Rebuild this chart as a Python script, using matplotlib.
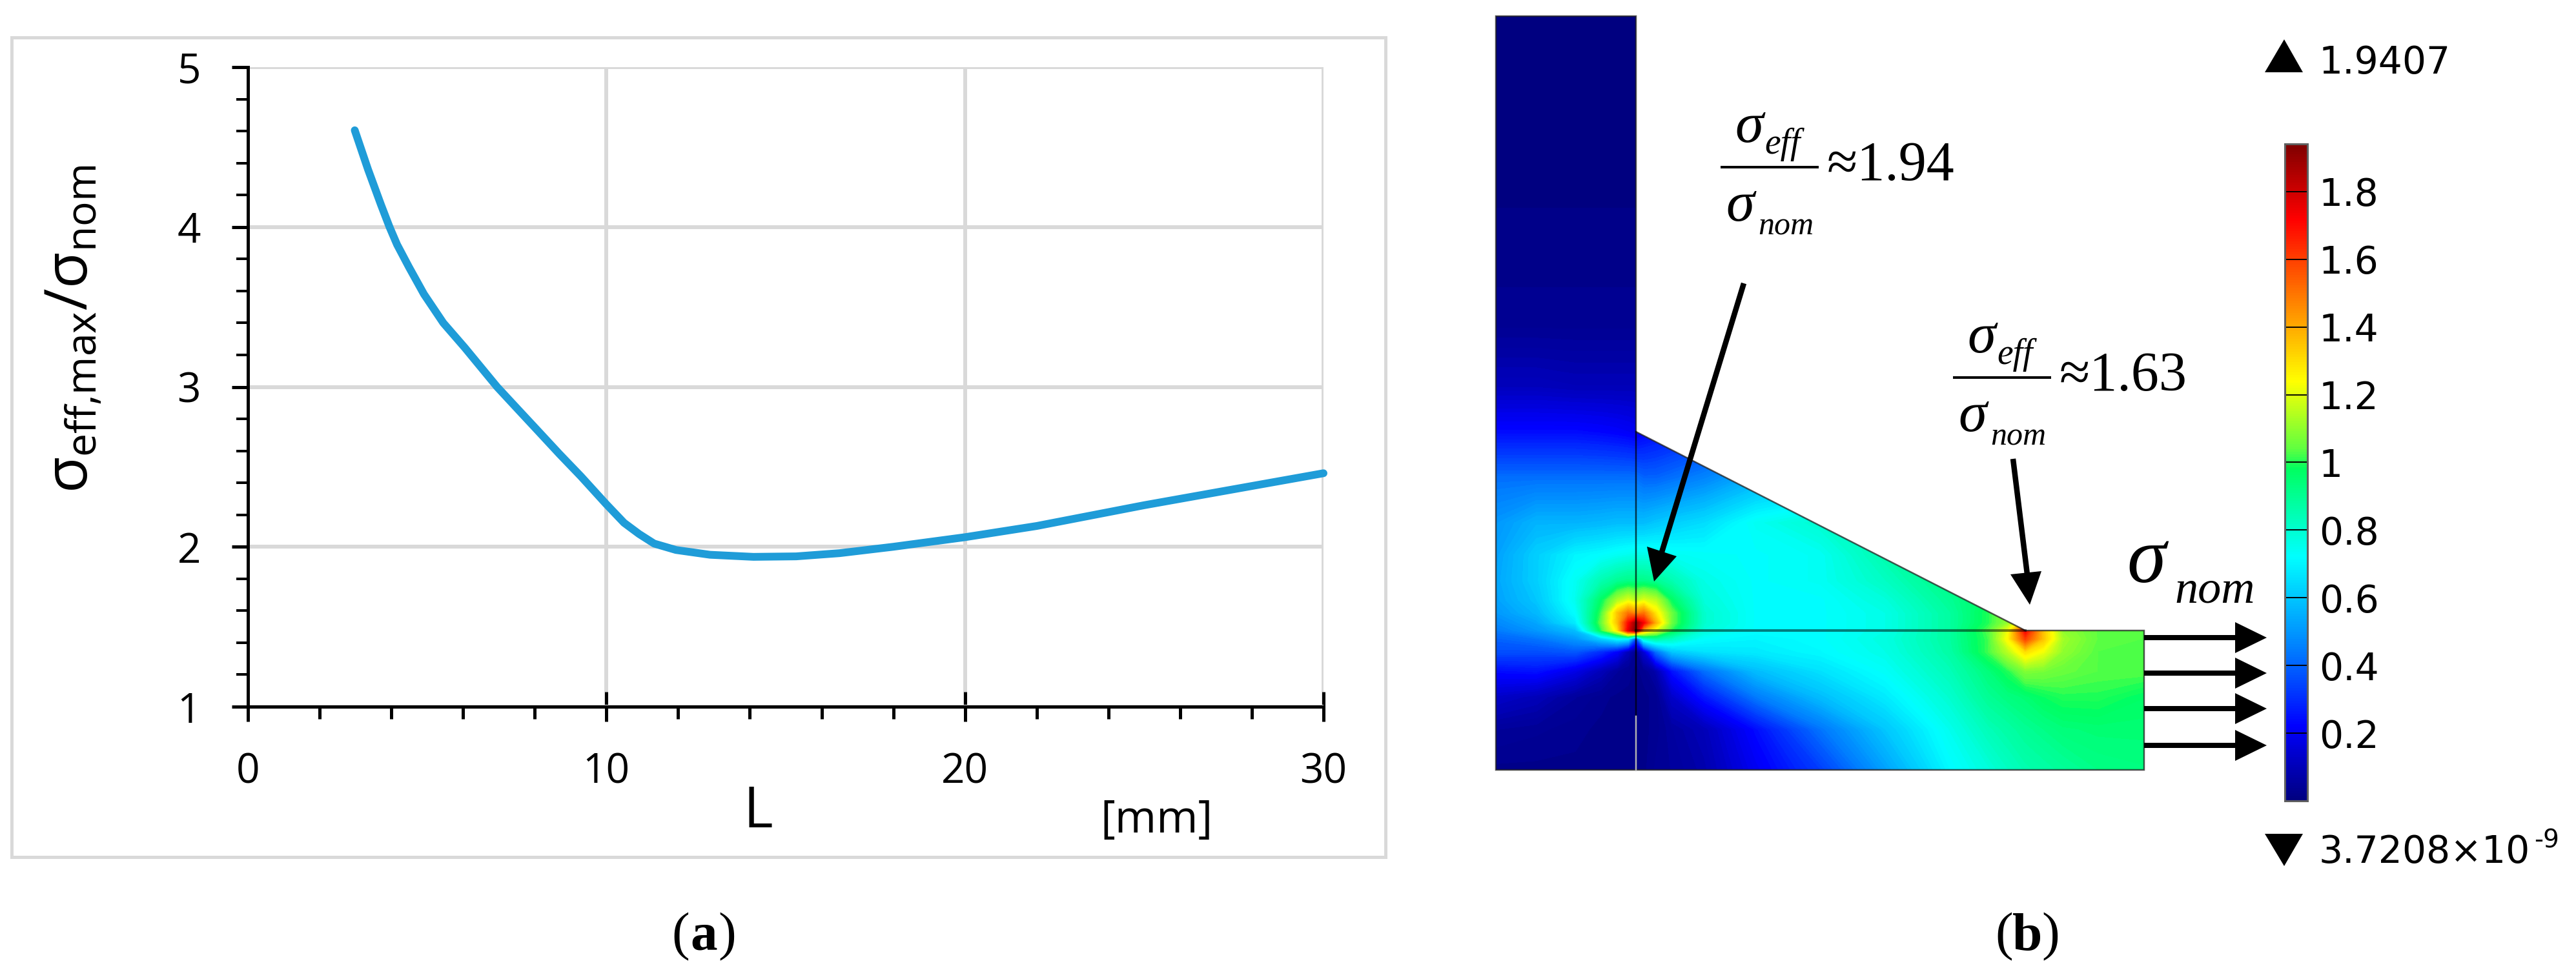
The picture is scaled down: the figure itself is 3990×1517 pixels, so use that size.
import numpy as np
import matplotlib
matplotlib.use("Agg")
import matplotlib.pyplot as plt
from matplotlib.colors import LinearSegmentedColormap, Normalize
from matplotlib.cm import ScalarMappable
from matplotlib.patches import Polygon, Rectangle
from matplotlib.ticker import MultipleLocator

plt.rcParams["font.family"] = ["Open Sans", "DejaVu Sans"]
plt.rcParams["mathtext.fontset"] = "custom"
plt.rcParams["mathtext.rm"] = "Open Sans"
plt.rcParams["mathtext.it"] = "Open Sans"
plt.rcParams["mathtext.bf"] = "Open Sans:bold"

W, H = 3990, 1517
PT = 0.72  # px -> pt at dpi 100

# ================== PANEL A DATA ==================
L_mm = [2.98, 3.35, 3.71, 3.95, 4.16, 4.49, 4.91, 5.45, 6.05, 6.95, 7.55, 8.09, 8.69, 9.29,
        9.98, 10.49, 10.91, 11.33, 11.94, 12.89, 14.1, 15.29, 16.5, 18.0, 20.0, 22.0, 25.0, 27.5, 30.0]
sigma_ratio = [4.605, 4.36, 4.14, 4.00, 3.89, 3.75, 3.58, 3.40, 3.245, 3.00, 2.855, 2.725, 2.58, 2.44,
               2.27, 2.15, 2.08, 2.02, 1.98, 1.95, 1.937, 1.94, 1.96, 2.00, 2.06, 2.13, 2.26, 2.36, 2.46]
x_ticks = [0, 10, 20, 30]
y_ticks = [1, 2, 3, 4, 5]

# ================== PANEL B DATA (field, pixel positions) ==================
field_x = [2317, 2380, 2440, 2480, 2505, 2522, 2534, 2546, 2565, 2590, 2640,
           2720, 2820, 2920, 3020, 3080, 3110, 3137, 3165, 3195, 3250, 3321]
field_y = [25, 300, 500, 600, 670, 740, 810, 860, 900, 930, 950, 965, 977, 990, 1010, 1040, 1080, 1130, 1193]
field_z = [
    [.00, .00, .00, .00, .00, .00, .00, .00, .00, .00, .00, .00, .00, .00, .00, .00, .00, .00, .00, .00, .00, .00],
    [.01, .01, .01, .01, .01, .01, .01, .01, .01, .01, .01, .01, .01, .01, .01, .01, .01, .01, .01, .01, .01, .01],
    [.03, .03, .03, .03, .03, .03, .03, .03, .03, .03, .03, .03, .03, .03, .03, .03, .03, .03, .03, .03, .03, .03],
    [.11, .11, .10, .10, .10, .10, .10, .10, .10, .10, .10, .10, .10, .10, .10, .10, .10, .10, .10, .10, .10, .10],
    [.24, .24, .24, .23, .22, .21, .20, .22, .24, .26, .30, .36, .40, .40, .40, .40, .40, .40, .40, .40, .40, .40],
    [.42, .42, .42, .42, .42, .42, .42, .40, .40, .42, .46, .55, .60, .70, .80, .80, .80, .80, .80, .80, .80, .80],
    [.50, .56, .56, .57, .58, .58, .58, .58, .60, .62, .65, .74, .80, .85, .90, 1.0, 1.0, 1.0, 1.0, 1.0, 1.0, 1.0],
    [.52, .62, .70, .72, .74, .75, .76, .76, .76, .74, .73, .72, .74, .86, .95, 1.0, 1.0, 1.0, 1.0, 1.0, 1.0, 1.0],
    [.53, .62, .74, .85, .90, .92, .92, .92, .90, .85, .76, .72, .74, .82, .93, 1.0, 1.05, 1.1, 1.1, 1.1, 1.1, 1.1],
    [.52, .60, .75, .97, 1.13, 1.20, 1.15, 1.20, 1.15, .97, .78, .72, .72, .78, .90, .98, 1.05, 1.1, 1.1, 1.1, 1.1, 1.1],
    [.50, .57, .72, 1.02, 1.35, 1.50, 1.45, 1.50, 1.28, 1.05, .80, .72, .72, .76, .88, 1.0, 1.1, 1.15, 1.15, 1.1, 1.05, 1.05],
    [.47, .53, .68, 1.05, 1.35, 1.70, 1.90, 1.72, 1.38, 1.05, .80, .72, .72, .76, .88, 1.0, 1.1, 1.35, 1.25, 1.1, 1.05, 1.05],
    [.44, .50, .58, 1.00, 1.28, 1.75, 1.94, 1.40, 1.20, 1.00, .78, .72, .72, .76, .88, 1.03, 1.22, 1.72, 1.35, 1.10, 1.04, 1.03],
    [.40, .43, .50, .62, .72, .70, .35, .80, .88, .82, .72, .70, .72, .77, .88, 1.02, 1.25, 1.60, 1.35, 1.12, 1.04, 1.03],
    [.36, .36, .38, .30, .22, .10, .03, .15, .42, .60, .66, .68, .71, .76, .87, 1.02, 1.15, 1.30, 1.22, 1.10, 1.03, 1.03],
    [.24, .25, .18, .10, .05, .03, .02, .03, .08, .25, .42, .58, .66, .73, .84, .94, 1.0, 1.08, 1.07, 1.05, 1.03, 1.03],
    [.13, .10, .05, .03, .02, .02, .02, .02, .03, .13, .26, .44, .58, .68, .80, .90, .93, .95, .98, 1.0, 1.0, .97],
    [.05, .04, .03, .02, .02, .02, .02, .02, .03, .06, .10, .24, .43, .60, .75, .84, .87, .90, .92, .94, .95, .95],
    [.02, .02, .02, .02, .02, .02, .02, .02, .04, .05, .08, .20, .33, .52, .71, .78, .82, .85, .87, .89, .92, .93],
]
field_max = 1.9407
cbar_ticks = [0.2, 0.4, 0.6, 0.8, 1, 1.2, 1.4, 1.6, 1.8]
cbar_labels = ["0.2", "0.4", "0.6", "0.8", "1", "1.2", "1.4", "1.6", "1.8"]
cmap_vals = [0, .22, .45, .72, .88, .98, 1.04, 1.24, 1.45, 1.72, 1.9407]
cmap_cols = ["#000080", "#0000ff", "#0080ff", "#00ffff", "#00ffa0", "#00ff60", "#60ff40",
             "#ffff00", "#ff9000", "#ff0000", "#800000"]

body_outline = [(2317, 25), (2534, 25), (2534, 669), (3137, 977), (3321, 977), (3321, 1193), (2317, 1193)]
load_y = [988, 1043, 1098, 1155]

fig = plt.figure(figsize=(W / 100, H / 100), dpi=100, facecolor="white")

# ================== PANEL A ==================
ax = fig.add_axes([384 / W, 1 - 1095 / H, (2050 - 384) / W, (1095 - 104) / H])
ax.plot(L_mm, sigma_ratio, color="#1f9cd8", lw=12 * PT, clip_on=False, zorder=4,
        solid_capstyle="round", solid_joinstyle="round")
ax.set_xlim(0, 30)
ax.set_ylim(1, 5)
ax.set_xticks(x_ticks)
ax.set_yticks(y_ticks)
ax.xaxis.set_minor_locator(MultipleLocator(2))
ax.yaxis.set_minor_locator(MultipleLocator(0.2))
ax.grid(True, which="major", color="#d9d9d9", lw=6 * PT)
ax.set_axisbelow(True)
for s in ["top", "right"]:
    ax.spines[s].set_visible(False)
for s in ["left", "bottom"]:
    ax.spines[s].set_linewidth(5 * PT)
ax.tick_params(axis="x", which="major", direction="inout", length=46 * PT, width=5 * PT,
               labelsize=46, pad=46 * PT)
ax.tick_params(axis="x", which="minor", direction="out", length=19 * PT, width=5 * PT)
ax.tick_params(axis="y", which="major", direction="out", length=25 * PT, width=5 * PT,
               labelsize=46, pad=48 * PT)
ax.tick_params(axis="y", which="minor", direction="out", length=18 * PT, width=4 * PT)

# ================== OVERLAY IN PIXEL COORDINATES ==================
ov = fig.add_axes([0, 0, 1, 1], facecolor="none")
ov.set_xlim(0, W)
ov.set_ylim(H, 0)
ov.axis("off")

ov.add_patch(Rectangle((18, 58), 2128, 1270, fill=False, ec="#d9d9d9", lw=5 * PT, zorder=0))
ov.text(114, 510, r"$\mathregular{\sigma_{eff{,}max}/\sigma_{nom}}$", rotation=90, fontsize=66,
        ha="center", va="center")
ov.text(1174, 1259, "L", fontsize=63, ha="center", va="center")
ov.text(1792, 1272, "[mm]", fontsize=50, ha="center", va="center")

serif = "Liberation Serif"
for label, xc in [("a", 1090), ("b", 3140)]:
    ov.text(xc - 22, 1452, "(", family=serif, fontsize=60, ha="right", va="center")
    ov.text(xc, 1452, label, family=serif, fontsize=60, weight="bold", ha="center", va="center")
    ov.text(xc + 22, 1452, ")", family=serif, fontsize=60, ha="left", va="center")

# ================== PANEL B: FIELD ==================
field_cmap = LinearSegmentedColormap.from_list(
    "field", [(v / field_max, c) for v, c in zip(cmap_vals, cmap_cols)])
norm = Normalize(0, field_max)
body = Polygon(body_outline, closed=True, fill=False, ec="#202020", lw=2.5 * PT, alpha=0.75, zorder=3)
ov.add_patch(body)
cs = ov.contourf(field_x, field_y, field_z, levels=np.linspace(0, field_max + 0.01, 160),
                 cmap=field_cmap, norm=norm, zorder=2, antialiased=False)
cs.set_clip_path(body)
ov.set_xlim(0, W)
ov.set_ylim(H, 0)

# inner construction lines
ov.plot([2534, 2534], [669, 1110], color="black", lw=2.5 * PT, alpha=0.7, zorder=3)
ov.plot([2534, 2534], [1110, 1193], color="#b0b0b0", lw=2.5 * PT, zorder=3)
ov.plot([2534, 3137], [977, 977], color="black", lw=4 * PT, alpha=0.5, zorder=3)

# callout arrows
for start, end in [((2701, 439), (2572, 862)), ((3118, 711), (3140, 890))]:
    ov.plot([start[0], end[0]], [start[1], end[1]], color="black", lw=8.5 * PT, zorder=5, solid_capstyle="butt")
for tip, corner1, corner2 in [
    ((2562, 901), (2551, 847), (2597, 862)),
    ((3144, 937), (3114, 890), (3162, 885)),
]:
    ov.add_patch(Polygon([tip, corner1, corner2], closed=True, color="black", lw=0, zorder=5))

# load arrows
for y in load_y:
    ov.plot([3321, 3465], [y, y], color="black", lw=8 * PT, zorder=5, solid_capstyle="butt")
    ov.add_patch(Polygon([(3511, y), (3462, y - 24), (3462, y + 24)], closed=True, color="black", lw=0, zorder=5))


def fraction(dx, dy, value):
    # sigma_eff / sigma_nom with the value beside it
    ov.plot([2667 + dx, 2815 + dx], [259 + dy, 259 + dy], color="black", lw=4 * PT, zorder=5)
    ov.text(2709 + dx, 220 + dy, "\u03c3", family=serif, style="italic", fontsize=64, ha="center", va="baseline")
    ov.text(2733 + dx, 238 + dy, "eff", family=serif, style="italic", fontsize=40, ha="left", va="baseline")
    ov.text(2695 + dx, 342 + dy, "\u03c3", family=serif, style="italic", fontsize=64, ha="center", va="baseline")
    ov.text(2723 + dx, 363 + dy, "nom", family=serif, style="italic", fontsize=36, ha="left", va="baseline")
    ov.text(2830 + dx, 279 + dy, "\u2248" + value, family=serif, fontsize=62, ha="left", va="baseline")


fraction(0, 0, "1.94")
fraction(360, 326, "1.63")

ov.text(3324, 902, "\u03c3", family=serif, style="italic", fontsize=88, ha="center", va="baseline")
ov.text(3368, 933, "nom", family=serif, style="italic", fontsize=52, ha="left", va="baseline")

# ================== COLORBAR ==================
cax = fig.add_axes([3539 / W, 1 - 1241 / H, (3574 - 3539) / W, (1241 - 223) / H])
cb = fig.colorbar(ScalarMappable(norm=norm, cmap=field_cmap), cax=cax, ticks=cbar_ticks)
cb.ax.set_yticklabels(cbar_labels, family="DejaVu Sans", fontsize=42)
cb.ax.tick_params(direction="in", length=35 * PT, width=1.5 * PT, pad=18 * PT, right=True, left=True)
cb.outline.set_edgecolor("#606060")
cb.outline.set_linewidth(3 * PT)

ov.add_patch(Polygon([(3538, 61), (3508, 112), (3567, 112)], closed=True, color="black", lw=0))
ov.add_patch(Polygon([(3538, 1342), (3508, 1292), (3567, 1292)], closed=True, color="black", lw=0))
ov.text(3592, 114, "1.9407", family="DejaVu Sans", fontsize=42, ha="left", va="baseline")
ov.text(3592, 1337, "3.7208\u00d710", family="DejaVu Sans", fontsize=42, ha="left", va="baseline")
ov.text(3925, 1313, "-9", family="DejaVu Sans", fontsize=28, ha="left", va="baseline")

plt.savefig("out.png", dpi=100)
